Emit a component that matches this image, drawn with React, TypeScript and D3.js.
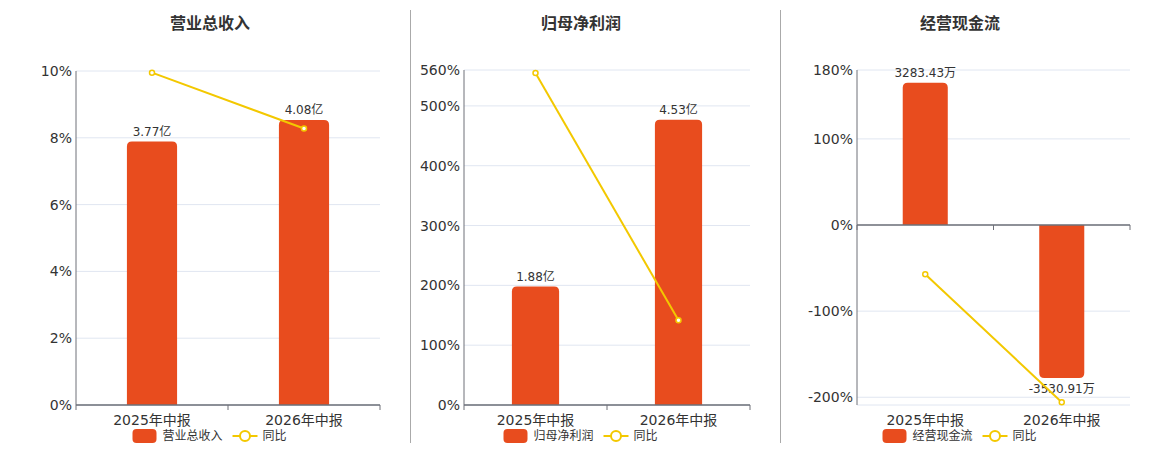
import * as d3 from "d3";

// categories and values
const periods = ["2025年中报", "2026年中报"];

const revenueValues = [3.77, 4.08]; // 亿
const revenueLabels = ["3.77亿", "4.08亿"];
const revenueYoy = [9.95, 8.28]; // %

const profitValues = [1.88, 4.53]; // 亿
const profitLabels = ["1.88亿", "4.53亿"];
const profitYoy = [555, 141.5]; // %

const cashValues = [3283.43, -3530.91]; // 万
const cashLabels = ["3283.43万", "-3530.91万"];
const cashYoy = [-57.2, -205.7]; // %

const revenueTicks = [0, 2, 4, 6, 8, 10];
const profitTicks = [0, 100, 200, 300, 400, 500, 560];
const cashTicks = [-200, -100, 0, 100, 180];

const BAR = "#e84c1e";
const LINE = "#f3c800";
const AXIS = "#6e7079";
const GRID = "#e0e6f1";
const TEXT = "#333";
const FONT = "'DejaVu Sans', 'Noto Sans CJK SC', sans-serif";

interface PanelProps {
  title: string;
  legendName: string;
  center: number;
  x0: number;
  x1: number;
  top: number;
  bottom: number;
  yDomain: [number, number];
  ticks: number[];
  barDomain: [number, number];
  values: number[];
  labels: string[];
  yoy: number[];
}

const barPath = (x: number, w: number, y0: number, y1: number, r: number) => {
  // rounded corners on the outer end of the bar (y1)
  const up = y1 < y0;
  const h = Math.abs(y1 - y0);
  const rr = Math.min(r, h / 2, w / 2);
  if (up) {
    return `M${x},${y0}V${y1 + rr}Q${x},${y1} ${x + rr},${y1}H${x + w - rr}Q${x + w},${y1} ${x + w},${y1 + rr}V${y0}Z`;
  }
  return `M${x},${y0}V${y1 - rr}Q${x},${y1} ${x + rr},${y1}H${x + w - rr}Q${x + w},${y1} ${x + w},${y1 - rr}V${y0}Z`;
};

const Panel = (p: PanelProps) => {
  const xScale = d3.scaleBand<string>().domain(periods).range([p.x0, p.x1]);
  const yScale = d3.scaleLinear().domain(p.yDomain).range([p.bottom, p.top]);
  const barScale = d3.scaleLinear().domain(p.barDomain).range([p.bottom, p.top]);
  const zeroY = yScale(0);
  const bw = xScale.bandwidth() * 0.33;

  const line = d3
    .line<number>()
    .x((_, i) => xScale(periods[i])! + xScale.bandwidth() / 2)
    .y((d) => yScale(d));

  const legendW = 24 + 6 + p.legendName.length * 12 + 10 + 25 + 6 + 24;
  const lx = p.center - legendW / 2;
  const lx2 = lx + 24 + 6 + p.legendName.length * 12 + 10;

  return (
    <g fontFamily={FONT}>
      <text x={p.center} y={29} textAnchor="middle" fontSize={16} fontWeight="bold" fill={TEXT}>
        {p.title}
      </text>

      {/* grid */}
      {p.ticks.map((t) => (
        <line key={t} x1={p.x0} x2={p.x1} y1={yScale(t)} y2={yScale(t)} stroke={GRID} />
      ))}
      <line x1={p.x0} x2={p.x1} y1={p.bottom} y2={p.bottom} stroke={GRID} />

      {/* y axis */}
      <line x1={p.x0} x2={p.x0} y1={p.top} y2={p.bottom} stroke={AXIS} />
      {p.ticks.map((t) => (
        <text key={t} x={p.x0 - 4} y={yScale(t)} dy="0.36em" textAnchor="end" fontSize={14} fill={TEXT}>
          {t}%
        </text>
      ))}

      {/* bars */}
      {p.values.map((v, i) => {
        const x = xScale(periods[i])! + (xScale.bandwidth() - bw) / 2;
        return <path key={i} d={barPath(x, bw, barScale(0), barScale(v), 5)} fill={BAR} />;
      })}
      {p.values.map((v, i) => {
        const cx = xScale(periods[i])! + xScale.bandwidth() / 2;
        const y = barScale(v);
        return (
          <text key={i} x={cx} y={v >= 0 ? y - 6 : y + 4} dy={v >= 0 ? 0 : "0.9em"} textAnchor="middle" fontSize={12} fill={TEXT}>
            {p.labels[i]}
          </text>
        );
      })}

      {/* x axis */}
      <line x1={p.x0} x2={p.x1} y1={zeroY} y2={zeroY} stroke={AXIS} strokeWidth={1.5} />
      {[p.x0, ...periods.map((c) => xScale(c)! + xScale.bandwidth())].map((x, i) => (
        <line key={i} x1={x} x2={x} y1={zeroY} y2={zeroY + 5} stroke={AXIS} />
      ))}
      {periods.map((c) => (
        <text key={c} x={xScale(c)! + xScale.bandwidth() / 2} y={425} textAnchor="middle" fontSize={14} fill={TEXT}>
          {c}
        </text>
      ))}

      {/* yoy line */}
      <path d={line(p.yoy) ?? ""} fill="none" stroke={LINE} strokeWidth={2} />
      {p.yoy.map((v, i) => (
        <circle key={i} cx={xScale(periods[i])! + xScale.bandwidth() / 2} cy={yScale(v)} r={2.5} fill="#fff" stroke={LINE} strokeWidth={1.5} />
      ))}

      {/* legend */}
      <rect x={lx} y={429} width={24} height={14} rx={4} fill={BAR} />
      <text x={lx + 30} y={440} fontSize={12} fill={TEXT}>
        {p.legendName}
      </text>
      <line x1={lx2} x2={lx2 + 25} y1={436} y2={436} stroke={LINE} strokeWidth={2} />
      <circle cx={lx2 + 12.5} cy={436} r={5} fill="#fff" stroke={LINE} strokeWidth={2} />
      <text x={lx2 + 30} y={440} fontSize={12} fill={TEXT}>
        同比
      </text>
    </g>
  );
};

const App = () => {
  return (
    <svg width={1160} height={450} style={{ position: "absolute", left: 0, top: 0, display: "block", background: "#fff" }}>
      <Panel
        title="营业总收入"
        legendName="营业总收入"
        center={210}
        x0={76}
        x1={380}
        top={71}
        bottom={405}
        yDomain={[0, 10]}
        ticks={revenueTicks}
        barDomain={[0, 4.78]}
        values={revenueValues}
        labels={revenueLabels}
        yoy={revenueYoy}
      />
      <line x1={410.5} x2={410.5} y1={10} y2={443} stroke="#aaa" />
      <Panel
        title="归母净利润"
        legendName="归母净利润"
        center={581}
        x0={464}
        x1={750}
        top={70}
        bottom={405}
        yDomain={[0, 560]}
        ticks={profitTicks}
        barDomain={[0, 5.32]}
        values={profitValues}
        labels={profitLabels}
        yoy={profitYoy}
      />
      <line x1={780.5} x2={780.5} y1={10} y2={443} stroke="#aaa" />
      <Panel
        title="经营现金流"
        legendName="经营现金流"
        center={960}
        x0={857}
        x1={1130}
        top={70}
        bottom={405}
        yDomain={[-209, 180]}
        ticks={cashTicks}
        barDomain={[-4157, 3580]}
        values={cashValues}
        labels={cashLabels}
        yoy={cashYoy}
      />
    </svg>
  );
};

export default App;
